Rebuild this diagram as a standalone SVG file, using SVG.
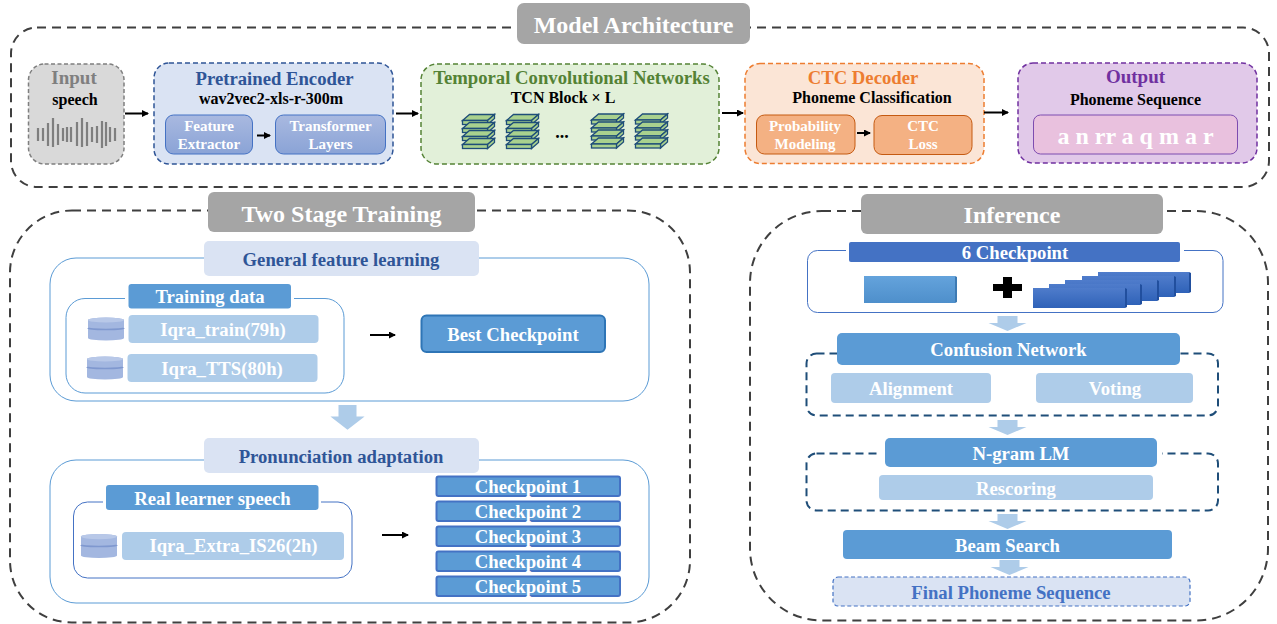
<svg xmlns="http://www.w3.org/2000/svg" xmlns:xlink="http://www.w3.org/1999/xlink" width="1277" height="624" viewBox="0 0 1277 624">
<style>
text{font-family:"Liberation Serif","Times New Roman",serif;font-weight:700;text-anchor:middle}
.w{fill:#fff}.k{fill:#000}
.big{fill:none;stroke:#3f3f3f;stroke-width:2;stroke-dasharray:9 6}
.title{fill:#a5a5a5}
.mid{fill:#5b9bd5}.light{fill:#aecce9}.pale{fill:#dae3f3}
.line{fill:#fff;stroke:#5b9bd5;stroke-width:1}
.line2{fill:#fff;stroke:#4472c4;stroke-width:1}
.navy{fill:none;stroke:#1f4e79;stroke-width:2;stroke-dasharray:8 5}
.ck{fill:#5b9bd5;stroke:#4472c4;stroke-width:2}
.conn{fill:none;stroke:#000;stroke-width:2}
.tcnf{fill:#a9d18e;stroke:#1f4e79;stroke-width:1.300}
.tcns{fill:#a9d18e;stroke:#1f4e79;stroke-width:1.300}
.wave{stroke:#7f7f7f;stroke-width:2.200}
.t24{font-size:24px}.t19{font-size:18.700px}.t16{font-size:16px}.t15{font-size:15px}
</style>
<defs>
<marker id="ah" markerWidth="8" markerHeight="8" refX="6" refY="3.500" orient="auto" markerUnits="userSpaceOnUse"><path d="M0 0L7 3.500L0 7z" fill="#000"/></marker>
<linearGradient id="gb" x1="0" y1="0" x2="0" y2="1"><stop offset="0" stop-color="#a9b9e0"/><stop offset="1" stop-color="#8aa3d6"/></linearGradient>
<linearGradient id="g1" x1="0" y1="0" x2="0" y2="1"><stop offset="0" stop-color="#64a3dc"/><stop offset="1" stop-color="#4e8fcb"/></linearGradient>
<linearGradient id="g2" x1="0" y1="0" x2="0" y2="1"><stop offset="0" stop-color="#4f7ccb"/><stop offset="1" stop-color="#2f62b8"/></linearGradient>
<path id="down" d="M-10 0H10V7H19L0 15L-19 7H-10z" fill="#aecce9"/>
<g id="cyl"><path d="M-18 -9A18 2.500 0 0 1 18 -9V9A18 2.500 0 0 1 -18 9z" fill="#a3b7e0"/><ellipse cx="0" cy="-9" rx="18" ry="2.500" fill="#b8c8e8"/><path d="M-18 -1A18 1.500 0 0 0 18 -1" fill="none" stroke="#7f98cf" stroke-width="1.600"/></g>
<g id="layer"><path d="M0 6L7 0H32L25 6z" class="tcns"/><path d="M25 6L32 0V4L25 10z" class="tcnf"/><rect x="0" y="6" width="25" height="4" class="tcnf"/></g>
<g id="stack"><use xlink:href="#layer" y="0"/><use xlink:href="#layer" y="8"/><use xlink:href="#layer" y="16"/><use xlink:href="#layer" y="24"/></g>
</defs>

<g id="model-architecture">
<rect class="big" x="11" y="27.500" width="1258" height="159.500" rx="26"/>
<rect class="title" x="517" y="3" width="233" height="41" rx="7"/>
<text class="w t24" x="633.500" y="33">Model Architecture</text>
</g>

<g id="input">
<rect x="28.500" y="64" width="95.500" height="100" rx="16" fill="#d9d9d9" stroke="#7f7f7f" stroke-width="1.500" stroke-dasharray="4 2.500"/>
<text x="74" y="84" font-size="19" fill="#7f7f7f">Input</text>
<text class="k t16" x="75" y="105">speech</text>
<path class="wave" d="M38 128V141M43 128V141M48 123V146M53 118V147M58 124V145M63 128V141M67 127V142M71 127V142M77 122V146M82 118V147M87 122V146M92 127V142M97 126V143M102 121V148M106 122V146M110 127V142M115 128V141"/>
</g>

<g id="encoder">
<rect x="154" y="63" width="239" height="101" rx="15" fill="#dae3f3" stroke="#2f5597" stroke-width="1.500" stroke-dasharray="5 3"/>
<text class="t19" x="274.500" y="85" fill="#2f5597">Pretrained Encoder</text>
<text class="k t16" x="271" y="104">wav2vec2-xls-r-300m</text>
</g>
<g id="feature-extractor">
<rect x="165.500" y="115" width="87" height="39" rx="8" fill="url(#gb)" stroke="#4472c4" stroke-width="1"/>
<text class="w t15" x="209" y="131">Feature</text>
<text class="w t15" x="209" y="149">Extractor</text>
</g>
<g id="transformer-layers">
<rect x="275.500" y="115" width="110" height="39" rx="8" fill="url(#gb)" stroke="#4472c4" stroke-width="1"/>
<text class="w t15" x="330.500" y="131">Transformer</text>
<text class="w t15" x="330.500" y="149">Layers</text>
</g>

<g id="tcn">
<rect x="421" y="64" width="298" height="100" rx="16" fill="#e2f0d9" stroke="#548235" stroke-width="1.500" stroke-dasharray="5 3"/>
<text class="t19" x="571.500" y="83.500" fill="#548235">Temporal Convolutional Networks</text>
<text class="k t16" x="563" y="103">TCN Block × L</text>
<use xlink:href="#stack" x="462.500" y="114.500"/>
<use xlink:href="#stack" x="506.500" y="114.500"/>
<use xlink:href="#stack" x="591.500" y="114"/>
<use xlink:href="#stack" x="635.500" y="114"/>
<text class="k" x="562" y="138" font-size="18">...</text>
</g>

<g id="ctc-decoder">
<rect x="745" y="63.500" width="239" height="100" rx="15" fill="#fbe5d6" stroke="#ed7d31" stroke-width="1.500" stroke-dasharray="5 3"/>
<text class="t19" x="863" y="83.500" fill="#ed7d31">CTC Decoder</text>
<text class="k t16" x="872" y="103">Phoneme Classification</text>
</g>
<g id="probability-modeling">
<rect x="756.500" y="115" width="98.500" height="39" rx="8" fill="#f4b183" stroke="#c55a11" stroke-width="1"/>
<text class="w t15" x="805" y="131">Probability</text>
<text class="w t15" x="805" y="149">Modeling</text>
</g>
<g id="ctc-loss">
<rect x="874" y="115.500" width="98" height="39" rx="8" fill="#f4b183" stroke="#c55a11" stroke-width="1"/>
<text class="w t15" x="923" y="131">CTC</text>
<text class="w t15" x="923" y="149">Loss</text>
</g>

<g id="output">
<rect x="1018" y="63" width="239" height="100" rx="15" fill="#e1c9e9" stroke="#7030a0" stroke-width="1.500" stroke-dasharray="5 3"/>
<text x="1135.500" y="82.500" font-size="19" fill="#7030a0">Output</text>
<text class="k t16" x="1135.500" y="105">Phoneme Sequence</text>
<rect x="1033.500" y="115" width="204" height="39" rx="7" fill="#e9c1de" stroke="#7d4cb0" stroke-width="1"/>
<text class="w t24" x="1135.500" y="144">a n rr a q m a r</text>
</g>

<g id="two-stage-training">
<rect class="big" x="10" y="210.500" width="680" height="412" rx="62"/>
<rect class="title" x="208" y="192" width="267" height="40" rx="6"/>
<text class="w t24" x="341.500" y="222">Two Stage Training</text>
</g>

<g id="general-feature-learning">
<rect class="line" x="50" y="258" width="599" height="143" rx="26"/>
<rect class="pale" x="204" y="241" width="275" height="35" rx="5"/>
<text class="t19" x="341" y="266" fill="#2f5597">General feature learning</text>
</g>
<g id="training-data">
<rect class="line" x="66" y="298.500" width="278" height="94.500" rx="19"/>
<rect x="125" y="283" width="169" height="26" fill="#fff"/>
<rect class="mid" x="128.500" y="284" width="162.500" height="24.500" rx="3"/>
<text class="w t19" x="210" y="303">Training data</text>
</g>
<g id="iqra-train">
<use xlink:href="#cyl" x="106" y="329"/>
<rect class="light" x="128.500" y="315" width="190" height="28" rx="4"/>
<text class="w t19" x="223" y="336">Iqra_train(79h)</text>
</g>
<g id="iqra-tts">
<use xlink:href="#cyl" x="105" y="368"/>
<rect class="light" x="127.500" y="354" width="190" height="28" rx="4"/>
<text class="w t19" x="222" y="375">Iqra_TTS(80h)</text>
</g>
<g id="best-checkpoint">
<rect x="421.500" y="315.500" width="183.500" height="36.500" rx="5" fill="#5b9bd5" stroke="#2e75b6" stroke-width="2"/>
<text class="w t19" x="513" y="341">Best Checkpoint</text>
</g>

<g id="pronunciation-adaptation">
<rect class="line" x="50" y="460" width="599" height="143" rx="26"/>
<rect class="pale" x="204" y="438" width="275" height="35" rx="5"/>
<text class="t19" x="341" y="463" fill="#2f5597">Pronunciation adaptation</text>
</g>
<g id="real-learner-speech">
<rect class="line2" x="73.500" y="502" width="278.500" height="76" rx="14"/>
<rect x="103" y="484" width="218" height="27" fill="#fff"/>
<rect class="mid" x="106" y="485" width="212.500" height="25" rx="3"/>
<text class="w t19" x="212.500" y="505">Real learner speech</text>
</g>
<g id="iqra-extra">
<use xlink:href="#cyl" transform="translate(99 546) scale(1 1.050)"/>
<rect class="light" x="122" y="532" width="222" height="28" rx="4"/>
<text class="w t19" x="233.500" y="552">Iqra_Extra_IS26(2h)</text>
</g>
<g id="checkpoint-1"><rect class="ck" x="436.500" y="476.500" width="183.500" height="19.500" rx="2"/><text class="w t19" x="528" y="492.500">Checkpoint 1</text></g>
<g id="checkpoint-2"><rect class="ck" x="436.500" y="501.500" width="183.500" height="19.500" rx="2"/><text class="w t19" x="528" y="517.500">Checkpoint 2</text></g>
<g id="checkpoint-3"><rect class="ck" x="436.500" y="526.500" width="183.500" height="19.500" rx="2"/><text class="w t19" x="528" y="542.500">Checkpoint 3</text></g>
<g id="checkpoint-4"><rect class="ck" x="436.500" y="551.500" width="183.500" height="19.500" rx="2"/><text class="w t19" x="528" y="567.500">Checkpoint 4</text></g>
<g id="checkpoint-5"><rect class="ck" x="436.500" y="576.500" width="183.500" height="19.500" rx="2"/><text class="w t19" x="528" y="592.500">Checkpoint 5</text></g>

<g id="inference">
<rect class="big" x="750" y="211" width="518" height="409.500" rx="72"/>
<rect class="title" x="861" y="194" width="302" height="40" rx="6"/>
<text class="w t24" x="1012" y="223">Inference</text>
</g>

<g id="six-checkpoint">
<rect class="line2" x="807.500" y="250.500" width="415.500" height="62" rx="10"/>
<rect x="846" y="241" width="338" height="22" fill="#fff"/>
<rect x="849" y="242" width="331" height="20" rx="2" fill="#4472c4"/>
<text class="w t19" x="1015" y="259">6 Checkpoint</text>
<rect x="864" y="276" width="91" height="27" fill="url(#g1)"/><path d="M955 276L957 277V302L955 303z" fill="#3d7ab3"/>
<path d="M993 284H1003V277H1012V284H1022V291H1012V298H1003V291H993z" fill="#000"/>
<g id="layers">
<rect x="1098" y="272" width="91" height="21" fill="url(#g2)"/><path d="M1189 272L1191 273V292L1189 293z" fill="#214f9e"/>
<rect x="1082" y="276" width="92" height="21" fill="url(#g2)"/><path d="M1174 276L1176 277V296L1174 297z" fill="#214f9e"/>
<rect x="1065" y="280" width="92" height="21" fill="url(#g2)"/><path d="M1157 280L1159 281V300L1157 301z" fill="#214f9e"/>
<rect x="1049" y="284" width="91" height="21" fill="url(#g2)"/><path d="M1140 284L1142 285V304L1140 305z" fill="#214f9e"/>
<rect x="1033" y="288" width="92" height="20" fill="url(#g2)"/><path d="M1125 288L1127 289V307L1125 308z" fill="#214f9e"/>
</g>
</g>

<g id="confusion-network">
<rect class="navy" x="806.500" y="353.500" width="411.500" height="62" rx="10"/>
<rect class="mid" x="837" y="333" width="343" height="32" rx="5"/>
<text class="w t19" x="1008.500" y="356">Confusion Network</text>
<rect class="light" x="831" y="373" width="160" height="30" rx="4"/>
<text class="w t19" x="911" y="395">Alignment</text>
<rect class="light" x="1036" y="373" width="157" height="30" rx="4"/>
<text class="w t19" x="1115" y="395">Voting</text>
</g>
<g id="ngram-lm">
<rect class="navy" x="806.500" y="453.500" width="411.500" height="57" rx="10"/>
<rect x="880" y="450" width="282" height="8" fill="#fff"/>
<rect class="mid" x="885" y="438" width="272" height="29" rx="5"/>
<text class="w t19" x="1021" y="460">N-gram LM</text>
<rect class="light" x="879" y="475" width="274" height="25" rx="4"/>
<text class="w t19" x="1016" y="495">Rescoring</text>
</g>
<g id="beam-search">
<rect class="mid" x="843" y="530" width="329" height="29" rx="4"/>
<text class="w t19" x="1007.500" y="552">Beam Search</text>
</g>
<g id="final-phoneme-sequence">
<rect x="833" y="577" width="357" height="29" rx="5" fill="#dae3f3" stroke="#4472c4" stroke-width="1.200" stroke-dasharray="4 2.500"/>
<text class="t19" x="1011" y="599" fill="#4472c4">Final Phoneme Sequence</text>
</g>

<g id="connectors">
<path class="conn" d="M125 113.500H148" marker-end="url(#ah)"/>
<path class="conn" d="M396 113.500H418" marker-end="url(#ah)"/>
<path class="conn" d="M722 113H743" marker-end="url(#ah)"/>
<path class="conn" d="M984 112.500H1008" marker-end="url(#ah)"/>
<path class="conn" d="M257 135.500H270" marker-end="url(#ah)"/>
<path class="conn" d="M857 133H870" marker-end="url(#ah)"/>
<path class="conn" d="M370 335H395" marker-end="url(#ah)"/>
<path class="conn" d="M382 535H408" marker-end="url(#ah)"/>
<use xlink:href="#down" transform="translate(347.500 405) scale(.9 1.650)"/>
<use xlink:href="#down" x="1007.500" y="316"/>
<use xlink:href="#down" x="1007.500" y="420"/>
<use xlink:href="#down" x="1007.500" y="514"/>
<use xlink:href="#down" x="1009.500" y="560"/>
</g>
</svg>
